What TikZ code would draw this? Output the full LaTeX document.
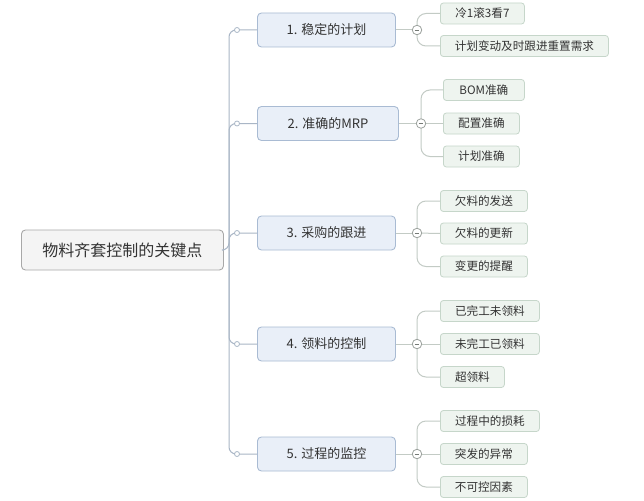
\documentclass[tikz,border=0pt]{standalone}
\usepackage{fontspec}
\setmainfont{Noto Sans CJK SC}
\definecolor{rootfill}{HTML}{F4F4F4}
\definecolor{rootdraw}{HTML}{A8A8A8}
\definecolor{lonefill}{HTML}{E9EFF8}
\definecolor{lonedraw}{HTML}{A9BBD3}
\definecolor{leaffill}{HTML}{EEF4EF}
\definecolor{leafdraw}{HTML}{C6D6CA}
\definecolor{trunkcol}{HTML}{A9B6C6}
\definecolor{twigcol}{HTML}{C3CBC5}
\definecolor{txt}{HTML}{333333}
\begin{document}
\begin{tikzpicture}[x=1pt,y=-1pt,
  rootbox/.style={draw=rootdraw,fill=rootfill,rounded corners=4pt,line width=0.9pt,
    minimum width=202pt,minimum height=40pt,inner sep=0pt,anchor=west,
    font=\fontsize{16}{18}\selectfont,text=txt},
  lonebox/.style={draw=lonedraw,fill=lonefill,rounded corners=4pt,line width=0.9pt,
    minimum width=138pt,minimum height=34pt,inner sep=0pt,anchor=west,
    font=\fontsize{13}{15}\selectfont,text=txt},
  leafbox/.style={draw=leafdraw,fill=leaffill,rounded corners=3pt,line width=0.8pt,
    minimum height=21pt,inner sep=0pt,anchor=west,
    font=\fontsize{11.6}{13}\selectfont,text=txt},
  trunk/.style={draw=trunkcol,line width=1pt,rounded corners=7pt},
  twig/.style={draw=twigcol,line width=1pt,rounded corners=9pt},
  knob/.style={circle,draw=trunkcol,fill=white,line width=0.8pt,minimum size=5pt,inner sep=0pt},
  collapse/.style={circle,draw=twigcol!80!black,fill=white,line width=0.8pt,minimum size=9.5pt,inner sep=0pt},
  minusbar/.style={draw=twigcol!60!black,line width=0.8pt}
]
\useasboundingbox[fill=white] (0,0) rectangle (644,500);

% root
\node[rootbox] (root) at (21,250) {物料齐套控制的关键点};
\coordinate (hub) at (229,250);

% level one
\node[lonebox] (n1) at (257,30) {1. 稳定的计划};
\node[lonebox,minimum width=141pt] (n2) at (257,123.5) {2. 准确的MRP};
\node[lonebox] (n3) at (257,233) {3. 采购的跟进};
\node[lonebox] (n4) at (257,344) {4. 领料的控制};
\node[lonebox] (n5) at (257,454) {5. 过程的监控};

% collapse points
\coordinate (c1) at (417,30);
\coordinate (c2) at (421,123.5);
\coordinate (c3) at (417,233);
\coordinate (c4) at (417,344);
\coordinate (c5) at (417,454);

% leaves
\node[leafbox,minimum width=84pt] (a1) at (440,13.5) {冷1滚3看7};
\node[leafbox,minimum width=168pt] (a2) at (440,46) {计划变动及时跟进重置需求};

\node[leafbox,minimum width=81pt] (b1) at (443,90) {BOM准确};
\node[leafbox,minimum width=76pt] (b2) at (443,123.5) {配置准确};
\node[leafbox,minimum width=76pt] (b3) at (443,156.5) {计划准确};

\node[leafbox,minimum width=87pt] (d1) at (440,201) {欠料的发送};
\node[leafbox,minimum width=87pt] (d2) at (440,233.5) {欠料的更新};
\node[leafbox,minimum width=87pt] (d3) at (440,266.5) {变更的提醒};

\node[leafbox,minimum width=99pt] (e1) at (440,311) {已完工未领料};
\node[leafbox,minimum width=99pt] (e2) at (440,344) {未完工已领料};
\node[leafbox,minimum width=64pt] (e3) at (440,377) {超领料};

\node[leafbox,minimum width=99pt] (f1) at (440,421) {过程中的损耗};
\node[leafbox,minimum width=87pt] (f2) at (440,454) {突发的异常};
\node[leafbox,minimum width=87pt] (f3) at (440,487) {不可控因素};

% trunk connectors
\draw[trunk] (root.east) -- (hub) |- (n1.west);
\draw[trunk] (hub) |- (n2.west);
\draw[trunk] (hub) |- (n3.west);
\draw[trunk] (hub) |- (n4.west);
\draw[trunk] (hub) |- (n5.west);
\foreach \n in {n1,n2,n3,n4,n5}{
  \node[knob] at ([xshift=-20pt]\n.west) {};
}

% level one to collapse points
\draw[twig] (n1.east) -- (c1);
\draw[twig] (n2.east) -- (c2);
\draw[twig] (n3.east) -- (c3);
\draw[twig] (n4.east) -- (c4);
\draw[twig] (n5.east) -- (c5);

% twigs
\draw[twig] (c1) |- (a1.west);
\draw[twig] (c1) |- (a2.west);
\draw[twig] (c2) |- (b1.west);
\draw[twig] (c2) -- (b2.west);
\draw[twig] (c2) |- (b3.west);
\draw[twig] (c3) |- (d1.west);
\draw[twig] (c3) -- (d2.west);
\draw[twig] (c3) |- (d3.west);
\draw[twig] (c4) |- (e1.west);
\draw[twig] (c4) -- (e2.west);
\draw[twig] (c4) |- (e3.west);
\draw[twig] (c5) |- (f1.west);
\draw[twig] (c5) -- (f2.west);
\draw[twig] (c5) |- (f3.west);

\foreach \c in {c1,c2,c3,c4,c5}{
  \node[collapse] at (\c) {};
  \draw[minusbar] ([xshift=-2.3pt]\c) -- ([xshift=2.3pt]\c);
}
\end{tikzpicture}
\end{document}
